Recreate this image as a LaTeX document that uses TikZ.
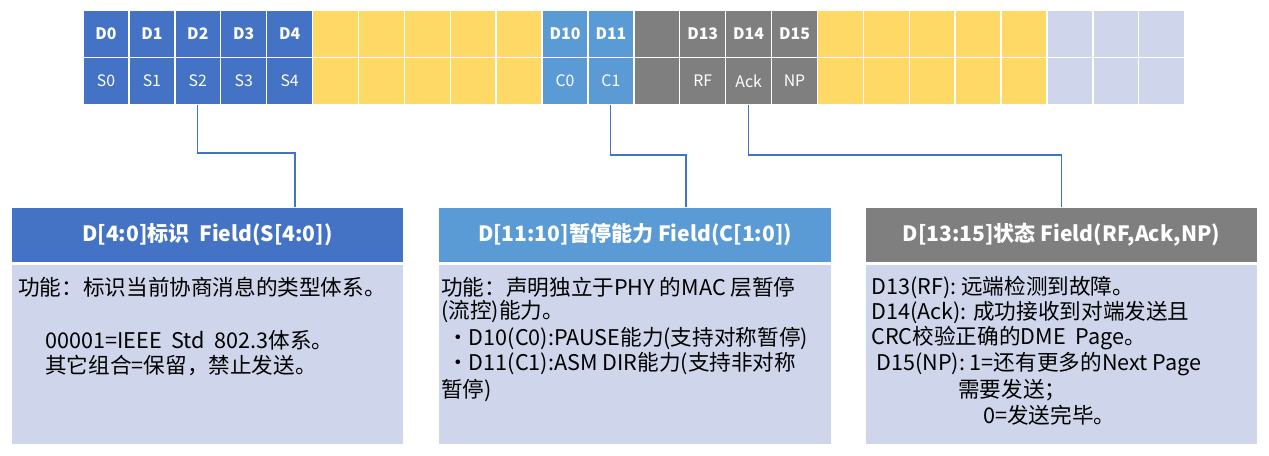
\documentclass[tikz,border=0pt]{standalone}
\usepackage{fontspec}
\setmainfont{Noto Sans CJK SC}
\usetikzlibrary{positioning}
\definecolor{cblue}{HTML}{4472C4}
\definecolor{clight}{HTML}{5B9BD5}
\definecolor{cyel}{HTML}{FFD966}
\definecolor{cgray}{HTML}{7F7F7F}
\definecolor{clav}{HTML}{CFD5EA}
\tikzset{
	cell/.style = {draw=white, line width=0.8pt, minimum width=0.918cm, minimum height=0.95cm, inner sep=0pt, text=white, font=\fontsize{9}{10}\selectfont},
	head/.style = {draw=white, line width=0.8pt, minimum width=7.86cm, minimum height=1.1cm, text=white, font=\fontsize{12}{14}\selectfont\bfseries},
	body/.style = {draw=white, line width=0.8pt, fill=clav, minimum width=7.86cm, minimum height=3.62cm, anchor=north},
	txt/.style = {anchor=west, inner sep=0pt, font=\fontsize{12.3}{14}\selectfont},
	link/.style = {draw=cblue, line width=0.6pt}
}
\begin{document}
\begin{tikzpicture}[x=0.02cm, y=-0.02cm]
	\useasboundingbox (0,0) rectangle (1269,456);
	% top register
	\foreach \i/\c/\d/\s in {0/cblue/D0/S0, 1/cblue/D1/S1, 2/cblue/D2/S2, 3/cblue/D3/S3, 4/cblue/D4/S4,
		5/cyel//, 6/cyel//, 7/cyel//, 8/cyel//, 9/cyel//,
		10/clight/D10/C0, 11/clight/D11/C1, 12/cgray//,
		13/cgray/D13/RF, 14/cgray/D14/Ack, 15/cgray/D15/NP,
		16/cyel//, 17/cyel//, 18/cyel//, 19/cyel//, 20/cyel//,
		21/clav//, 22/clav//, 23/clav//}
	{
		\node[cell, fill=\c, font=\fontsize{9}{10}\selectfont\bfseries] (d\i) at (106+45.9*\i, 34) {\d};
		\node[cell, fill=\c] (s\i) at (106+45.9*\i, 81) {\s};
	}
	% field boxes
	\node[head, fill=cblue] (h1) at (207.5, 235) {D[4:0]标识\ \ Field(S[4:0])};
	\node[head, fill=clight] (h2) at (635, 235) {D[11:10]暂停能力 Field(C[1:0])};
	\node[head, fill=cgray] (h3) at (1061.5, 235) {D[13:15]状态 Field(RF,Ack,NP)};
	\node[body] (b1) at (h1.south) {};
	\node[body] (b2) at (h2.south) {};
	\node[body] (b3) at (h3.south) {};
	% texts
	\node[txt] (t1a) at (18, 287) {功能：标识当前协商消息的类型体系。};
	\node[txt] (t1b) at (45, 340) {00001=IEEE\ \ Std\ \ 802.3体系。};
	\node[txt] (t1c) at (45, 366) {其它组合=保留，禁止发送。};
	\node[txt] (t2a) at (441, 287) {功能：声明独立于PHY 的MAC 层暂停};
	\node[txt] (t2b) at (441, 312) {(流控)能力。};
	\node[txt] (t2c) at (447, 338) {·D10(C0):PAUSE能力(支持对称暂停)};
	\node[txt] (t2d) at (447, 364) {·D11(C1):ASM DIR能力(支持非对称};
	\node[txt] (t2e) at (441, 390) {暂停)};
	\node[txt] (t3a) at (871, 287) {D13(RF): 远端检测到故障。};
	\node[txt] (t3b) at (871, 312) {D14(Ack): 成功接收到对端发送且};
	\node[txt] (t3c) at (871, 338) {CRC校验正确的DME\ \ Page。};
	\node[txt] (t3d) at (876, 364) {D15(NP): 1=还有更多的Next Page};
	\node[txt] (t3e) at (958, 390) {需要发送；};
	\node[txt] (t3f) at (983, 415) {0=发送完毕。};
	% connectors
	\draw[link] (s2.south) |- (295,153) -- (h1.north -| 295,0);
	\draw[link] (s11.south) |- (686,155) -- (h2.north -| 686,0);
	\draw[link] (s14.south) |- (h3.north |- 0,155) -- (h3.north);
\end{tikzpicture}
\end{document}
